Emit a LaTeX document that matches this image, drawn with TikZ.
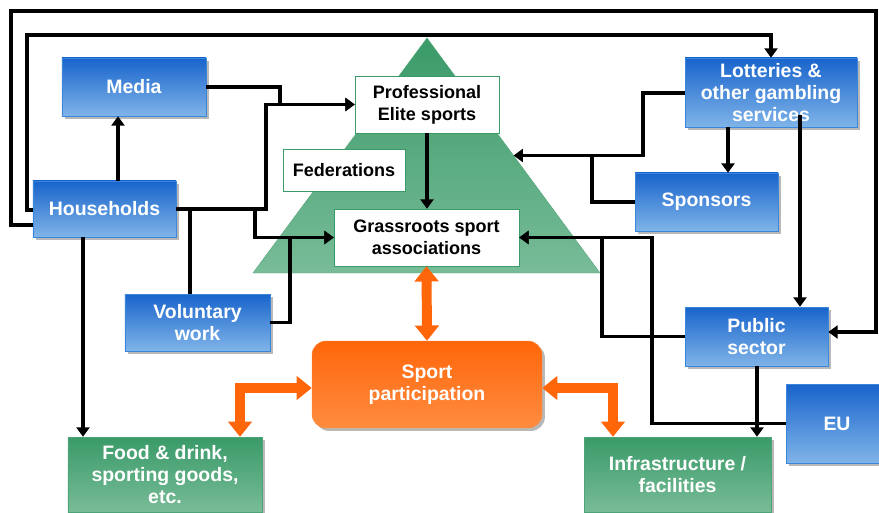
\documentclass[tikz,border=0pt]{standalone}
\usepackage{fontspec}
\setmainfont{Liberation Sans}
\usepackage{tikz}
\usetikzlibrary{arrows.meta,shapes,positioning,shadows,calc}
\definecolor{spblue}{RGB}{24,100,204}
\definecolor{splightblue}{RGB}{128,180,232}
\definecolor{spblueline}{RGB}{58,134,218}
\definecolor{spgreen}{RGB}{58,154,104}
\definecolor{splightgreen}{RGB}{120,188,152}
\definecolor{sporange}{RGB}{255,102,10}
\definecolor{splightorange}{RGB}{255,140,64}
\tikzstyle{flow} = [line width=3pt, -{Triangle[length=8pt,width=11pt]}, color=black]
\tikzstyle{flowline} = [line width=3pt, color=black]
\tikzstyle{flowboth} = [line width=8.5pt, {Triangle[length=13pt,width=20pt]}-{Triangle[length=13pt,width=20pt]}, color=sporange]
\tikzstyle{boxshadow} = [drop shadow={shadow xshift=2.5pt, shadow yshift=-2.5pt, fill=black!28, opacity=1}]
\tikzstyle{bluebox} = [rectangle, draw=spblueline, thin, top color=spblue, bottom color=splightblue, text=white, align=center, font=\fontsize{16.6}{18.8}\selectfont\bfseries, boxshadow]
\tikzstyle{greenbox} = [rectangle, draw=spgreen!90, thin, top color=spgreen, bottom color=splightgreen, text=white, align=center, font=\fontsize{16.6}{18.8}\selectfont\bfseries, boxshadow]
\tikzstyle{whitebox} = [rectangle, draw=spgreen, thin, fill=white, text=black, align=center, font=\fontsize{15.4}{18.8}\selectfont\bfseries]
\tikzstyle{sportbox} = [rectangle, rounded corners=0.42cm, draw=splightorange, thin, top color=sporange, bottom color=splightorange, text=white, align=center, font=\fontsize{16.6}{18.8}\selectfont\bfseries, boxshadow]

\begin{document}
\begin{tikzpicture}[x=0.03cm, y=-0.03cm]
    \useasboundingbox (0,0) rectangle (879,513);

    % Pyramid
    \coordinate (apex) at (427,38);
    \coordinate (baseL) at (253,273);
    \coordinate (baseR) at (600,273);
    \coordinate (trimid) at ($(apex)!0.5!(baseR)$);
    \shade[top color=spgreen, bottom color=splightgreen, draw=spgreen!85] (apex) -- (baseR) -- (baseL) -- cycle;

    % Nodes
    \node[bluebox, minimum width=4.29cm, minimum height=1.68cm] (hh) at (104.5,209) {Households};
    \node[bluebox, minimum width=4.32cm, minimum height=1.74cm] (media) at (134,87) {Media};
    \node[bluebox, minimum width=4.35cm, minimum height=1.71cm] (vol) at (197.5,322.5) {Voluntary\\work};
    \node[greenbox, minimum width=5.82cm, minimum height=2.25cm] (food) at (165,474.5) {Food \& drink,\\sporting goods,\\etc.};
    \node[whitebox, minimum width=4.32cm, minimum height=1.71cm] (prof) at (427,104.5) {Professional\\Elite sports};
    \node[whitebox, minimum width=3.66cm, minimum height=1.26cm] (fed) at (344,170) {Federations};
    \node[whitebox, minimum width=5.55cm, minimum height=1.71cm] (gr) at (426.5,237.5) {Grassroots sport\\associations};
    \node[bluebox, minimum width=5.16cm, minimum height=2.07cm] (lot) at (771,92.5) {Lotteries \&\\other gambling\\services};
    \node[bluebox, minimum width=4.29cm, minimum height=1.74cm] (spon) at (706.5,202) {Sponsors};
    \node[bluebox, minimum width=4.29cm, minimum height=1.77cm] (pub) at (756.5,336.5) {Public\\sector};
    \node[bluebox, minimum width=3.06cm, minimum height=2.37cm] (eu) at (837,423.5) {EU};
    \node[greenbox, minimum width=5.61cm, minimum height=2.25cm] (infra) at (677.5,474.5) {Infrastructure /\\facilities};
    \node[sportbox, minimum width=6.9cm, minimum height=2.61cm] (sport) at (427,384.5) {Sport\\participation};

    % Household loops
    \draw[flow] ($(hh.west)+(0,16)$) -| (11,11) -| (876,332) -- ($(pub.east)+(0,-4.5)$);
    \draw[flow] ($(hh.west)+(0,1)$) -| (27,35) -| (lot.north);

    % Arrows left
    \draw[flow] ($(hh.north)+(13.5,0)$) -- ($(media.south)+(-16,0)$);
    \draw[flow] (media.east) -| (280,104.5) -- (prof.west);
    \draw[flow] (hh.east) -| (266,104.5) -- (prof.west);
    \draw[flow] (hh.east) -- (255,209) |- (gr.west);
    \draw[flowline] (hh.east) -| ($(vol.north)+(-7.5,0)$);
    \draw[flow] (vol.east) -| (290,237.5) -- (gr.west);
    \draw[flow] ($(hh.south)+(-21.5,0)$) -- ($(food.north)+(-82,0)$);
    \draw[flow] (prof.south) -- (prof.south |- gr.north);

    % Arrows right
    \draw[flow] ($(lot.west)+(0,0.5)$) -| (643,155.5) -- (trimid);
    \draw[flowline] (spon.west) -| (592,155.5);
    \draw[flow] ($(lot.south)+(-43,0)$) -- ($(spon.north)+(21.5,0)$);
    \draw[flow] ($(lot.south)+(29,-12)$) -- ($(pub.north)+(43.5,0)$);
    \draw[flow] (pub.west) -| (602,237.5) -- (gr.east);
    \draw[flow] (eu.west) -| (652,237.5) -- (gr.east);
    \draw[flow] ($(pub.south)+(0.5,0)$) -- ($(infra.north)+(79.5,0)$);

    % Sport participation
    \draw[flowboth] (gr.south) -- (sport.north);
    \draw[flowboth] ($(sport.west)+(0,3.5)$) -| ($(food.north)+(75,0)$);
    \draw[flowboth] ($(sport.east)+(0,3.5)$) -| ($(infra.north)+(-64.5,0)$);
\end{tikzpicture}
\end{document}
